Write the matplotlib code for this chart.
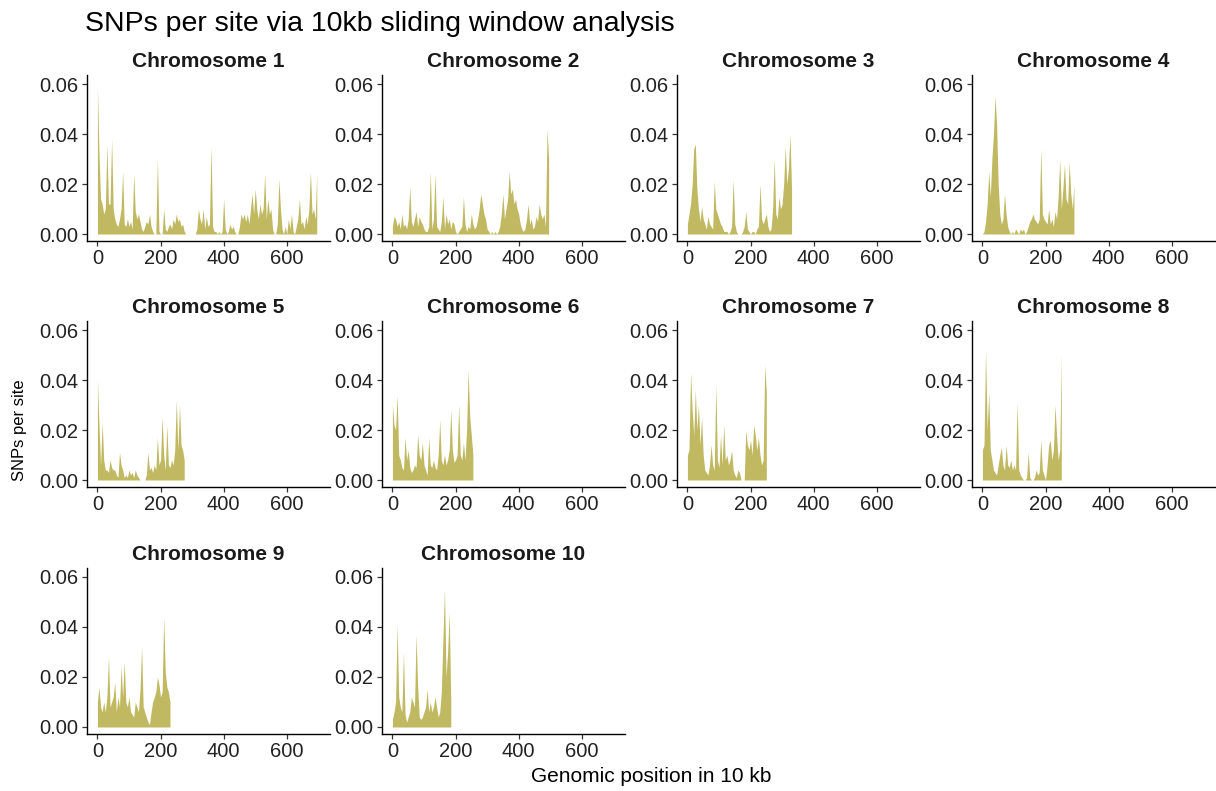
import matplotlib
matplotlib.use("Agg")
import matplotlib.pyplot as plt
import numpy as np

plt.rcParams["font.family"] = ["Liberation Sans", "DejaVu Sans"]

# window step (in 10 kb units) between the values listed below
STEP = 5

chr1 = [0.059, 0.032, 0.014, 0.012, 0.008, 0.010, 0.036, 0.012, 0.012, 0.038,
        0.010, 0.006, 0.004, 0.003, 0.006, 0.010, 0.025, 0.004, 0.003, 0.006,
        0.003, 0.005, 0.002, 0.024, 0.009, 0.006, 0.008, 0.005, 0.002, 0.001,
        0.003, 0.005, 0.004, 0.008, 0.003, 0.001, 0.000, 0.000, 0.030, 0.001,
        0.000, 0.000, 0.010, 0.002, 0.001, 0.003, 0.004, 0.002, 0.006, 0.004,
        0.008, 0.005, 0.006, 0.003, 0.004, 0.001, 0.000, 0.000, 0.000, 0.000,
        0.000, 0.000, 0.000, 0.002, 0.010, 0.006, 0.004, 0.010, 0.002, 0.007,
        0.003, 0.004, 0.035, 0.003, 0.001, 0.001, 0.000, 0.001, 0.000, 0.001,
        0.014, 0.002, 0.000, 0.001, 0.004, 0.002, 0.003, 0.001, 0.000, 0.000,
        0.003, 0.008, 0.006, 0.008, 0.005, 0.008, 0.004, 0.010, 0.016, 0.008,
        0.018, 0.010, 0.006, 0.012, 0.008, 0.010, 0.024, 0.006, 0.014, 0.008,
        0.010, 0.002, 0.000, 0.000, 0.004, 0.022, 0.010, 0.002, 0.000, 0.003,
        0.000, 0.006, 0.002, 0.008, 0.001, 0.000, 0.003, 0.006, 0.014, 0.004,
        0.005, 0.002, 0.007, 0.004, 0.010, 0.025, 0.008, 0.010, 0.006, 0.024]
chr2 = [0.003, 0.007, 0.006, 0.003, 0.005, 0.002, 0.008, 0.003, 0.004, 0.002,
        0.006, 0.019, 0.005, 0.003, 0.006, 0.009, 0.003, 0.007, 0.005, 0.004,
        0.002, 0.001, 0.001, 0.003, 0.025, 0.002, 0.006, 0.024, 0.003, 0.002,
        0.001, 0.005, 0.015, 0.002, 0.008, 0.004, 0.006, 0.002, 0.005, 0.004,
        0.001, 0.000, 0.001, 0.002, 0.003, 0.015, 0.004, 0.001, 0.003, 0.002,
        0.008, 0.004, 0.002, 0.003, 0.006, 0.010, 0.016, 0.012, 0.008, 0.006,
        0.002, 0.001, 0.000, 0.001, 0.000, 0.001, 0.000, 0.001, 0.003, 0.008,
        0.016, 0.006, 0.010, 0.014, 0.025, 0.016, 0.018, 0.012, 0.014, 0.010,
        0.008, 0.004, 0.002, 0.001, 0.002, 0.006, 0.012, 0.004, 0.006, 0.002,
        0.003, 0.007, 0.005, 0.012, 0.008, 0.006, 0.008, 0.003, 0.042, 0.030]
chr3 = [0.004, 0.008, 0.012, 0.020, 0.034, 0.036, 0.018, 0.010, 0.005, 0.011,
        0.006, 0.004, 0.002, 0.007, 0.004, 0.003, 0.002, 0.021, 0.010, 0.008,
        0.006, 0.004, 0.003, 0.001, 0.001, 0.001, 0.000, 0.001, 0.003, 0.022,
        0.004, 0.001, 0.000, 0.000, 0.000, 0.001, 0.003, 0.009, 0.002, 0.001,
        0.000, 0.001, 0.001, 0.000, 0.002, 0.003, 0.020, 0.006, 0.004, 0.006,
        0.008, 0.003, 0.001, 0.002, 0.010, 0.030, 0.008, 0.006, 0.015, 0.010,
        0.012, 0.020, 0.035, 0.020, 0.026, 0.040, 0.018]
chr4 = [0.000, 0.001, 0.005, 0.012, 0.025, 0.015, 0.030, 0.040, 0.055, 0.044,
        0.020, 0.008, 0.004, 0.006, 0.016, 0.008, 0.003, 0.001, 0.000, 0.001,
        0.000, 0.002, 0.001, 0.000, 0.002, 0.001, 0.002, 0.000, 0.001, 0.003,
        0.005, 0.006, 0.008, 0.006, 0.005, 0.004, 0.006, 0.034, 0.008, 0.006,
        0.005, 0.004, 0.010, 0.004, 0.006, 0.003, 0.009, 0.006, 0.015, 0.030,
        0.010, 0.018, 0.028, 0.014, 0.012, 0.029, 0.016, 0.010, 0.020]
chr5 = [0.040, 0.022, 0.006, 0.023, 0.008, 0.004, 0.004, 0.003, 0.008, 0.005,
        0.004, 0.004, 0.002, 0.001, 0.011, 0.006, 0.004, 0.001, 0.002, 0.001,
        0.004, 0.002, 0.003, 0.001, 0.004, 0.002, 0.001, 0.000, 0.000, 0.000,
        0.000, 0.002, 0.011, 0.004, 0.005, 0.003, 0.006, 0.004, 0.017, 0.006,
        0.008, 0.025, 0.010, 0.004, 0.022, 0.006, 0.005, 0.008, 0.006, 0.012,
        0.032, 0.012, 0.030, 0.014, 0.012, 0.008]
chr6 = [0.030, 0.022, 0.020, 0.034, 0.010, 0.008, 0.005, 0.004, 0.017, 0.008,
        0.012, 0.005, 0.003, 0.004, 0.006, 0.005, 0.018, 0.010, 0.008, 0.015,
        0.006, 0.004, 0.002, 0.017, 0.006, 0.005, 0.008, 0.005, 0.004, 0.010,
        0.024, 0.008, 0.006, 0.010, 0.006, 0.008, 0.012, 0.028, 0.012, 0.007,
        0.008, 0.010, 0.030, 0.010, 0.008, 0.015, 0.008, 0.020, 0.044, 0.025,
        0.018, 0.010]
chr7 = [0.010, 0.012, 0.043, 0.028, 0.018, 0.036, 0.020, 0.030, 0.014, 0.025,
        0.010, 0.004, 0.003, 0.002, 0.006, 0.014, 0.006, 0.004, 0.038, 0.008,
        0.005, 0.018, 0.006, 0.022, 0.008, 0.010, 0.006, 0.008, 0.012, 0.004,
        0.002, 0.001, 0.004, 0.003, 0.000, 0.000, 0.000, 0.020, 0.014, 0.012,
        0.016, 0.010, 0.022, 0.018, 0.012, 0.017, 0.010, 0.006, 0.008, 0.046,
        0.035]
chr8 = [0.012, 0.014, 0.052, 0.020, 0.035, 0.012, 0.008, 0.004, 0.003, 0.002,
        0.006, 0.010, 0.013, 0.006, 0.004, 0.014, 0.006, 0.005, 0.008, 0.004,
        0.006, 0.004, 0.031, 0.004, 0.002, 0.001, 0.000, 0.000, 0.001, 0.011,
        0.001, 0.000, 0.000, 0.001, 0.004, 0.002, 0.003, 0.016, 0.004, 0.002,
        0.000, 0.006, 0.014, 0.016, 0.008, 0.012, 0.030, 0.018, 0.008, 0.012,
        0.050]
chr9 = [0.010, 0.016, 0.008, 0.006, 0.010, 0.006, 0.012, 0.028, 0.008, 0.010,
        0.012, 0.018, 0.006, 0.012, 0.008, 0.024, 0.012, 0.026, 0.010, 0.008,
        0.012, 0.006, 0.005, 0.004, 0.010, 0.008, 0.006, 0.015, 0.032, 0.008,
        0.006, 0.004, 0.002, 0.001, 0.006, 0.010, 0.012, 0.014, 0.020, 0.017,
        0.012, 0.014, 0.044, 0.022, 0.016, 0.014, 0.010]
chr10 = [0.003, 0.006, 0.010, 0.041, 0.012, 0.008, 0.006, 0.030, 0.005, 0.002,
         0.004, 0.006, 0.012, 0.010, 0.008, 0.037, 0.016, 0.004, 0.003, 0.004,
         0.006, 0.008, 0.015, 0.006, 0.010, 0.006, 0.008, 0.012, 0.008, 0.004,
         0.006, 0.014, 0.035, 0.055, 0.020, 0.030, 0.046, 0.010]

chromosomes = [chr1, chr2, chr3, chr4, chr5, chr6, chr7, chr8, chr9, chr10]
names = ["Chromosome %d" % (i + 1) for i in range(10)]

fill_col = "#b5ad45"
text_col = "#222222"

W, H = 1216, 791
fig = plt.figure(figsize=(W / 100, H / 100), dpi=100)

# panel layout in pixels (left edge, top edge, width, height)
col_left = [87, 382, 677, 972]
row_top = [75, 321, 568]
pw, ph = 243, 166

for i, (vals, name) in enumerate(zip(chromosomes, names)):
    r, c = divmod(i, 4)
    ax = fig.add_axes([col_left[c] / W, 1 - (row_top[r] + ph) / H, pw / W, ph / H])
    x = np.arange(len(vals)) * STEP
    ax.fill_between(x, 0, vals, color=fill_col, alpha=0.85, linewidth=0)
    ax.set_xlim(-33, 737)
    ax.set_ylim(-0.0028, 0.0636)
    ax.set_xticks([0, 200, 400, 600])
    ax.set_yticks([0, 0.02, 0.04, 0.06])
    ax.set_yticklabels(["0.00", "0.02", "0.04", "0.06"])
    for side in ["top", "right"]:
        ax.spines[side].set_visible(False)
    for side in ["left", "bottom"]:
        ax.spines[side].set_linewidth(1.0)
        ax.spines[side].set_color("black")
    ax.tick_params(length=3.5, width=0.9, color="#333333", labelsize=14.5,
                   labelcolor=text_col, pad=2.5)
    ax.set_title(name, fontsize=15, fontweight="bold", color="#1a1a1a", pad=6)

fig.text(85 / W, 1 - 31 / H, "SNPs per site via 10kb sliding window analysis",
         fontsize=20.5, color="black", ha="left", va="baseline")
fig.text(651 / W, 1 - 776 / H, "Genomic position in 10 kb", fontsize=15,
         color="black", ha="center", va="center")
fig.text(20 / W, 1 - 430 / H, "SNPs per site", fontsize=12, color="black",
         ha="center", va="center", rotation=90)

plt.savefig("out.png", dpi=100)
